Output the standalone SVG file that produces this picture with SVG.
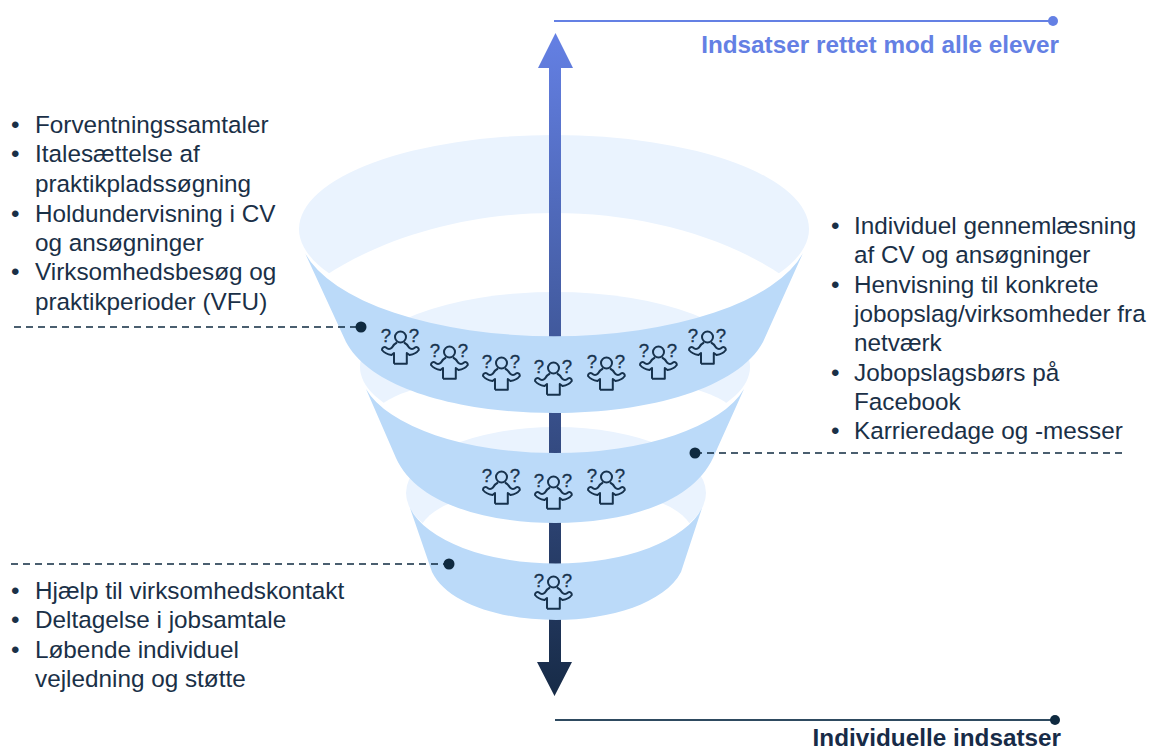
<svg xmlns="http://www.w3.org/2000/svg" xmlns:xlink="http://www.w3.org/1999/xlink" width="1149" height="752" viewBox="0 0 1149 752">
<style>
.back{fill:#EAF3FE}
.hole{fill:#fff}
.band{fill:#BBDAF9}
.t{font-family:"Liberation Sans",Arial,sans-serif;font-size:24.3px;fill:#1A3047}
.h{font-family:"Liberation Sans",Arial,sans-serif;font-size:24.3px;font-weight:700;text-anchor:end}
.dash{stroke:#0F2A40;stroke-width:1.5;stroke-dasharray:7 5;fill:none}
.dot{fill:#0F2A40}
.ic{fill:none;stroke:#17324D;stroke-width:2;stroke-linejoin:round}
.q{font-family:"Liberation Sans",Arial,sans-serif;font-size:18.600px;fill:#17324D;stroke:#17324D;stroke-width:.3;text-anchor:middle}
</style>
<defs>
<linearGradient id="ag" x1="0" y1="33" x2="0" y2="696" gradientUnits="userSpaceOnUse">
<stop offset="0" stop-color="#6480E4"/><stop offset="1" stop-color="#172B47"/>
</linearGradient>
<g id="person">
<circle class="ic" cx="0.500" cy="-10" r="5.500"/>
<path class="ic" d="M-6 16.700H6.800V6L9.500 8C13 7.500 17 5.500 18.800 3C19 0.500 16.500 -0.500 15 0.500C13 2.500 11 2.500 9 0.500C7.500 -2 6 -3.500 4 -4.500M-6 16.700V6L-8.500 8C-12 7.500 -16 5.500 -18 3C-18.200 0.500 -15.500 -0.500 -14 0.500C-12 2.500 -10 2.500 -8 0.500C-6.500 -2 -5 -3.500 -3 -4.500"/>
<text class="q" x="-14" y="-5.300">?</text>
<text class="q" x="14" y="-5.300">?</text>
</g>
</defs>
<g id="funnel-backs">
<ellipse class="back" cx="554" cy="229" rx="255" ry="94"/>
<path class="hole" d="M325 276C385 236 470 213 554 213C640 213 725 236 783 276L720 345H390Z"/>
<ellipse class="back" cx="555" cy="367" rx="195" ry="75"/>
<path class="hole" d="M381 405C405 385 480 372 555 372C630 372 705 385 729 405L680 470H430Z"/>
<ellipse class="back" cx="556" cy="493" rx="150" ry="66"/>
<path class="hole" d="M422 524C440 497 495 488 556 488C617 488 672 497 690 524L640 570H470Z"/>
</g>
<g id="connectors">
<path d="M549 68H538L555.500 33L573 68H561V662H572L554.500 696L537 662H549Z" fill="url(#ag)"/>
<path d="M554 21H1053" stroke="#6480E4" stroke-width="2" fill="none"/>
<circle cx="1053" cy="21" r="5" fill="#6480E4"/>
<path d="M555 720H1055" stroke="#2E4A60" stroke-width="2" fill="none"/>
<circle cx="1055" cy="720" r="5" class="dot"/>
</g>
<g id="funnel-top">
<path class="band" d="M305 253A255 106 0 0 0 803 253L763 342C738 388 650 413 554 413C458 413 370 388 346 342Z"/>
</g>
<g id="funnel-middle">
<path class="band" d="M366 389A195 85 0 0 0 744 389L713 458C692 503 625 523 555 523C485 523 416 503 396 458Z"/>
</g>
<g id="funnel-bottom">
<path class="band" d="M410 508A150 72 0 0 0 702 508L681 572C665 603 610 620 556 620C500 620 447 603 432 572Z"/>
</g>
<g id="people">
<use href="#person" x="400" y="347"/>
<use href="#person" x="449" y="362"/>
<use href="#person" x="501" y="373"/>
<use href="#person" x="553" y="378"/>
<use href="#person" x="606" y="373"/>
<use href="#person" x="658" y="362"/>
<use href="#person" x="707" y="347"/>
<use href="#person" x="501" y="487"/>
<use href="#person" x="553" y="492"/>
<use href="#person" x="606" y="487"/>
<use href="#person" x="553" y="592"/>
</g>
<g id="callout-universal">
<path class="dash" d="M14 327H361"/><circle class="dot" cx="361" cy="327" r="5.500"/>
<text class="t" x="11" y="133">•</text><text class="t" x="35" y="133">Forventningssamtaler</text>
<text class="t" x="11" y="162">•</text><text class="t" x="35" y="162">Italesættelse af</text>
<text class="t" x="35" y="192">praktikpladssøgning</text>
<text class="t" x="11" y="222">•</text><text class="t" x="35" y="222">Holdundervisning i CV</text>
<text class="t" x="35" y="251">og ansøgninger</text>
<text class="t" x="11" y="280">•</text><text class="t" x="35" y="280">Virksomhedsbesøg og</text>
<text class="t" x="35" y="310">praktikperioder (VFU)</text>
</g>
<g id="callout-targeted">
<path class="dash" d="M695 453H1127"/><circle class="dot" cx="695" cy="453" r="5.500"/>
<text class="t" x="831" y="234">•</text><text class="t" x="854" y="234">Individuel gennemlæsning</text>
<text class="t" x="854" y="263">af CV og ansøgninger</text>
<text class="t" x="831" y="293">•</text><text class="t" x="854" y="293">Henvisning til konkrete</text>
<text class="t" x="854" y="322">jobopslag/virksomheder fra</text>
<text class="t" x="854" y="351">netværk</text>
<text class="t" x="831" y="381">•</text><text class="t" x="854" y="381">Jobopslagsbørs på</text>
<text class="t" x="854" y="410">Facebook</text>
<text class="t" x="831" y="439">•</text><text class="t" x="854" y="439">Karrieredage og -messer</text>
</g>
<g id="callout-individual">
<path class="dash" d="M11 564H449"/><circle class="dot" cx="449" cy="564" r="5.500"/>
<text class="t" x="11" y="599">•</text><text class="t" x="35" y="599">Hjælp til virksomhedskontakt</text>
<text class="t" x="11" y="628">•</text><text class="t" x="35" y="628">Deltagelse i jobsamtale</text>
<text class="t" x="11" y="658">•</text><text class="t" x="35" y="658">Løbende individuel</text>
<text class="t" x="35" y="687">vejledning og støtte</text>
</g>
<g id="headings">
<text class="h" x="1059" y="53" fill="#6480E4">Indsatser rettet mod alle elever</text>
<text class="h" x="1061" y="746" fill="#172B47">Individuelle indsatser</text>
</g>
</svg>
